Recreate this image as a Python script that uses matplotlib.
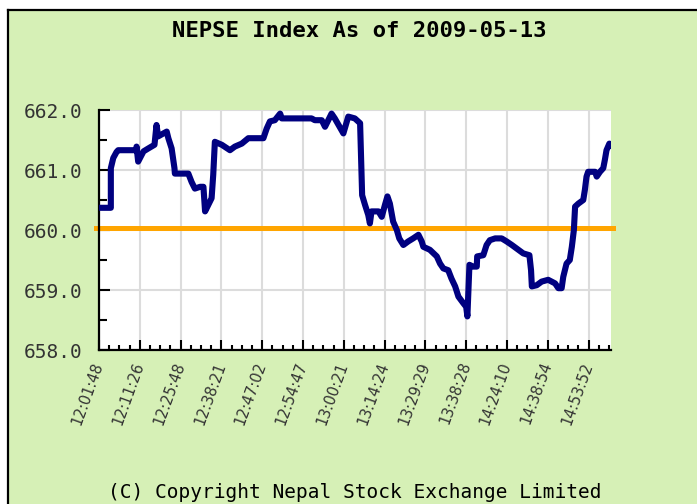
import matplotlib
matplotlib.use("Agg")
import matplotlib.pyplot as plt
from matplotlib.patches import Rectangle
from matplotlib.lines import Line2D

# ---- data ----
tick_labels = ["12:01:48", "12:11:26", "12:25:48", "12:38:21", "12:47:02", "12:54:47",
               "13:00:21", "13:14:24", "13:29:29", "13:38:28", "14:24:10", "14:38:54",
               "14:53:52"]
# x positions in units of label intervals
pos = [0, 0.29, 0.29, 0.35, 0.43, 0.47, 0.92, 0.92, 0.96, 1.09, 1.21, 1.36, 1.41, 1.45,
       1.58, 1.66, 1.70, 1.78, 1.85, 1.86, 2.19, 2.27, 2.35, 2.48, 2.56, 2.60, 2.68, 2.76,
       2.80, 2.84, 3.01, 3.21, 3.33, 3.50, 3.66, 4.03, 4.11, 4.19, 4.31, 4.44, 4.48, 5.21,
       5.29, 5.46, 5.54, 5.70, 5.78, 5.99, 6.11, 6.27, 6.40, 6.45, 6.52, 6.60, 6.64, 6.68,
       6.85, 6.93, 7.01, 7.07, 7.13, 7.21, 7.30, 7.36, 7.46, 7.58, 7.70, 7.83, 7.91, 7.95,
       8.11, 8.28, 8.36, 8.44, 8.56, 8.64, 8.73, 8.81, 8.93, 9.00, 9.03, 9.08, 9.17, 9.26,
       9.27, 9.42, 9.50, 9.58, 9.71, 9.87, 9.99, 10.12, 10.24, 10.40, 10.55, 10.59, 10.61,
       10.73, 10.85, 11.01, 11.18, 11.26, 11.34, 11.38, 11.46, 11.54, 11.59, 11.64, 11.67,
       11.75, 11.87, 11.91, 11.95, 11.99, 12.16, 12.20, 12.28, 12.36, 12.40, 12.44, 12.51,
       12.55]
index = [660.37, 660.37, 661.03, 661.20, 661.30, 661.33, 661.33, 661.39, 661.14, 661.31,
         661.36, 661.42, 661.75, 661.56, 661.61, 661.64, 661.53, 661.36, 661.03, 660.94,
         660.94, 660.80, 660.69, 660.72, 660.72, 660.31, 660.42, 660.53, 660.92, 661.47,
         661.42, 661.33, 661.39, 661.44, 661.53, 661.53, 661.69, 661.81, 661.83, 661.94,
         661.86, 661.86, 661.83, 661.83, 661.72, 661.94, 661.86, 661.61, 661.89, 661.86,
         661.78, 660.58, 660.42, 660.25, 660.11, 660.31, 660.31, 660.22, 660.42, 660.56,
         660.44, 660.14, 660.00, 659.86, 659.75, 659.81, 659.86, 659.92, 659.81, 659.72,
         659.67, 659.56, 659.44, 659.36, 659.33, 659.19, 659.06, 658.89, 658.78, 658.72,
         658.56, 659.42, 659.39, 659.39, 659.56, 659.58, 659.75, 659.83, 659.86, 659.86,
         659.81, 659.75, 659.69, 659.61, 659.58, 659.33, 659.06, 659.08, 659.14, 659.17,
         659.11, 659.03, 659.03, 659.22, 659.44, 659.50, 659.72, 660.00, 660.39, 660.44,
         660.50, 660.67, 660.89, 660.97, 660.97, 660.89, 660.97, 661.03, 661.17, 661.33,
         661.44, 661.40]
prev_close = 660.03
y_ticks = [658.0, 659.0, 660.0, 661.0, 662.0]

W, H, DPI = 697, 504, 100
fig = plt.figure(figsize=(W / DPI, H / DPI), dpi=DPI, facecolor="white")

green = "#d6f0b6"
fig.patches.append(Rectangle((8 / W, 0), 1, 1 - 10 / H, transform=fig.transFigure,
                             facecolor=green, edgecolor="none", zorder=-10))
fig.lines.append(Line2D([8 / W, 8 / W], [0, 1 - 10 / H], transform=fig.transFigure,
                        color="black", lw=1.6, zorder=-5))
fig.lines.append(Line2D([8 / W, 1], [1 - 10 / H, 1 - 10 / H], transform=fig.transFigure,
                        color="black", lw=1.6, zorder=-5))

ax = fig.add_axes([99 / W, (H - 350) / H, 512 / W, 240 / H])
ax.set_facecolor("white")
ax.set_xlim(0, 12.55)
ax.set_ylim(658, 662)

ax.set_axisbelow(True)
ax.set_xticks(range(len(tick_labels)))
ax.set_xticks([i * 0.25 for i in range(51)], minor=True)
ax.set_yticks(y_ticks)
ax.set_yticks([658.5, 659.5, 660.5, 661.5], minor=True)
ax.grid(True, which="major", color="#dcdcdc", lw=1.5)

ax.plot(pos, index, color="#000080", lw=4.4, solid_joinstyle="round",
        solid_capstyle="round", zorder=3)
ax.axhline(prev_close, xmin=-0.005, xmax=1.004, color="#ffa500", lw=3.6, zorder=2,
           clip_on=False)

for s in ["top", "right"]:
    ax.spines[s].set_visible(False)
for s in ["left", "bottom"]:
    ax.spines[s].set_linewidth(1.6)
    ax.spines[s].set_color("black")

ax.tick_params(axis="y", which="major", direction="in", length=8, width=1.5, pad=12)
ax.tick_params(axis="y", which="minor", direction="in", length=5.5, width=1.5)
ax.tick_params(axis="x", which="major", direction="in", length=7, width=1.5, pad=9)
ax.tick_params(axis="x", which="minor", direction="in", length=3.5, width=1.5)

ax.set_yticklabels([f"{v:.1f}" for v in y_ticks], family="DejaVu Sans Mono",
                   fontsize=14, color="#333333")
ax.set_xticklabels(tick_labels, rotation=70, ha="right", va="center",
                   rotation_mode="anchor", family="DejaVu Sans", fontsize=10.5,
                   color="#333333")

fig.text(359 / W, 1 - 31 / H, "NEPSE Index As of 2009-05-13", ha="center", va="center",
         family="DejaVu Sans Mono", fontweight="bold", fontsize=16, color="black")
fig.text(355 / W, 1 - 493 / H, "(C) Copyright Nepal Stock Exchange Limited",
         ha="center", va="center", family="DejaVu Sans Mono", fontsize=14,
         color="black")

fig.savefig("out.png", dpi=DPI, facecolor=fig.get_facecolor())
